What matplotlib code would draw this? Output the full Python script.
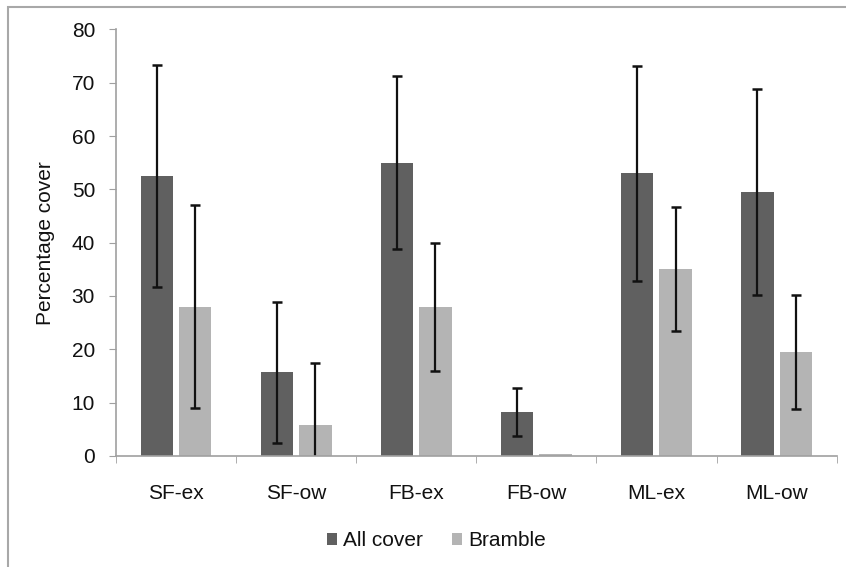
import numpy as np
import matplotlib
matplotlib.use('Agg')
import matplotlib.pyplot as plt
from matplotlib.patches import Rectangle

sites = ['SF-ex', 'SF-ow', 'FB-ex', 'FB-ow', 'ML-ex', 'ML-ow']
all_cover = [52.5, 15.7, 55.0, 8.2, 53.0, 49.5]
all_cover_err = [20.8, 13.2, 16.2, 4.45, 20.2, 19.3]
bramble = [28.0, 5.7, 28.0, 0.4, 35.0, 19.5]
bramble_err = [19.0, 11.8, 12.0, 0.0, 11.6, 10.7]

plt.rcParams['font.family'] = ['Liberation Sans', 'DejaVu Sans']

fig = plt.figure(figsize=(8.46, 5.67), dpi=100)
ax = fig.add_axes([0.137, 0.196, 0.852, 0.752])

x = np.arange(len(sites))
w = 0.27
gap = 0.025
ekw = dict(ecolor='#111111', elinewidth=1.6, capsize=3.6, capthick=1.8)
ax.bar(x - w / 2 - gap, all_cover, w, color='#606060', label='All cover',
       yerr=all_cover_err, error_kw=ekw)
b_err = [e if e > 0 else np.nan for e in bramble_err]
ax.bar(x + w / 2 + gap, bramble, w, color='#b4b4b4', label='Bramble',
       yerr=b_err, error_kw=ekw)

ax.set_xlim(-0.5, len(sites) - 0.5)
ax.set_ylim(0, 80)
ax.set_yticks(range(0, 81, 10))
ax.set_xticks(x)
ax.set_xticklabels(sites)
ax.set_xticks(np.arange(-0.5, len(sites)), minor=True)
ax.tick_params(axis='x', which='major', length=0, pad=20, labelsize=15,
               labelcolor='#111111')
ax.tick_params(axis='x', which='minor', length=5, color='#a0a0a0', direction='out')
ax.tick_params(axis='y', length=5, color='#a0a0a0', labelsize=15, pad=10,
               labelcolor='#111111')

for s in ['top', 'right']:
    ax.spines[s].set_visible(False)
for s in ['left', 'bottom']:
    ax.spines[s].set_color('#a0a0a0')
    ax.spines[s].set_linewidth(1.2)

ax.set_ylabel('Percentage cover', fontsize=15, labelpad=12, color='#111111')

ax.legend(loc='center', bbox_to_anchor=(0.516, 1 - 541 / 567),
          bbox_transform=fig.transFigure, ncol=2, frameon=False,
          fontsize=15, handlelength=0.48, handleheight=0.48,
          handletextpad=0.3, columnspacing=1.4, labelcolor='#111111')

# outer border of the chart area
fig.patches.append(Rectangle((8 / 846, -0.05), 1.0, 1 - 7 / 567 + 0.05,
                             transform=fig.transFigure, fill=False,
                             edgecolor='#a8a8a8', linewidth=1.5))

fig.savefig('out.png', dpi=100)
